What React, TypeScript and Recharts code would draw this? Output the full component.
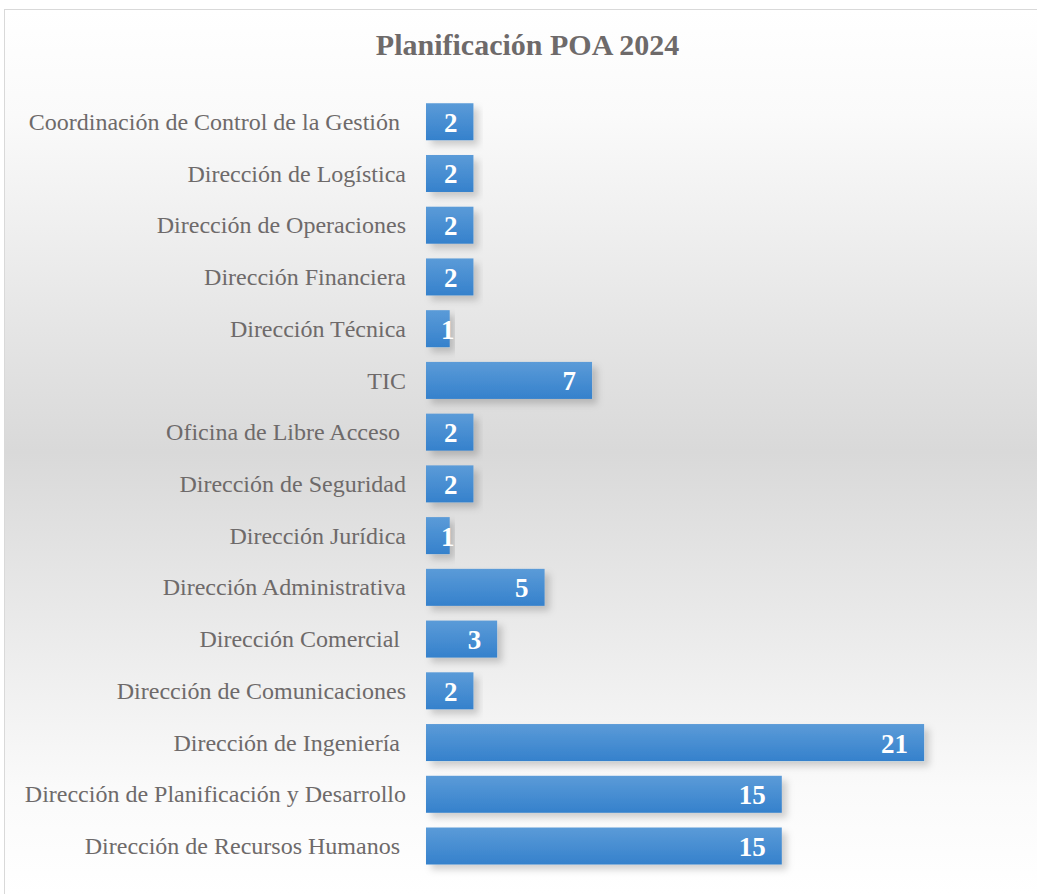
import { BarChart, Bar, XAxis, YAxis, LabelList } from "recharts";

const CATEGORIES = [
  "Coordinación de Control de la Gestión ",
  "Dirección de Logística",
  "Dirección de Operaciones",
  "Dirección Financiera",
  "Dirección Técnica",
  "TIC",
  "Oficina de Libre Acceso ",
  "Dirección de Seguridad",
  "Dirección Jurídica",
  "Dirección Administrativa",
  "Dirección Comercial ",
  "Dirección de Comunicaciones",
  "Dirección de Ingeniería ",
  "Dirección de Planificación y Desarrollo",
  "Dirección de Recursos Humanos ",
];

const VALUES = [2, 2, 2, 2, 1, 7, 2, 2, 1, 5, 3, 2, 21, 15, 15];

const data = CATEGORIES.map((nombre, i) => ({ nombre, valor: VALUES[i] }));

const FONT = '"Liberation Serif", "Times New Roman", serif';
const GRAY = "#6e6a6a";

const YTick = (props: any) => {
  const { x, y, payload } = props;
  return (
    <text
      x={x}
      y={y}
      textAnchor="end"
      dominantBaseline="central"
      fill={GRAY}
      fontFamily={FONT}
      fontSize={24}
      style={{ whiteSpace: "pre" }}
    >
      {payload.value}
    </text>
  );
};

const ValueLabel = (props: any) => {
  const { x, y, width, height, value } = props;
  const small = width < 40;
  const lx = small ? x + width - 2 : x + width - 16;
  return (
    <text
      x={lx}
      y={y + height / 2 + 1}
      textAnchor={small ? "middle" : "end"}
      dominantBaseline="central"
      fill="#ffffff"
      fontFamily={FONT}
      fontWeight="bold"
      fontSize={27}
    >
      {value}
    </text>
  );
};

const BarShape = (props: any) => {
  const { x, y, width, height } = props;
  return (
    <rect
      x={x}
      y={y}
      width={width}
      height={height}
      fill="url(#barGrad)"
      filter="url(#barShadow)"
    />
  );
};

export default function App() {
  return (
    <div
      style={{
        position: "absolute",
        left: 4,
        top: 9,
        width: 1033,
        height: 885,
        boxSizing: "border-box",
        overflow: "hidden",
        borderTop: "1px solid #d9d9d9",
        borderLeft: "1px solid #d9d9d9",
        background:
          "linear-gradient(to bottom, #ffffff 0%, #fafafa 12%, #d9d9d9 50%, #fafafa 88%, #ffffff 100%)",
      }}
    >
      <div
        style={{
          position: "absolute",
          top: 18,
          left: 0,
          width: 1045,
          textAlign: "center",
          fontFamily: FONT,
          fontWeight: "bold",
          fontSize: 30,
          color: GRAY,
        }}
      >
        Planificación POA 2024
      </div>
      <BarChart
        width={1032}
        height={884}
        data={data}
        layout="vertical"
        margin={{ top: 86, right: 18, bottom: 22, left: 0 }}
        barCategoryGap="14%"
      >
        <defs>
          <linearGradient id="barGrad" x1="0" y1="0" x2="0" y2="1">
            <stop offset="0%" stopColor="#5b9bd8" />
            <stop offset="100%" stopColor="#3581cc" />
          </linearGradient>
          <filter id="barShadow" x="-10%" y="-30%" width="130%" height="180%">
            <feDropShadow dx="5" dy="5" stdDeviation="3.5" floodColor="#000" floodOpacity="0.18" />
          </filter>
        </defs>
        <XAxis type="number" domain={[0, 25]} hide />
        <YAxis
          type="category"
          dataKey="nombre"
          width={421}
          axisLine={false}
          tickLine={false}
          tickSize={0}
          tickMargin={20}
          interval={0}
          tick={<YTick />}
        />
        <Bar dataKey="valor" shape={<BarShape />} isAnimationActive={false}>
          <LabelList dataKey="valor" content={<ValueLabel />} />
        </Bar>
      </BarChart>
    </div>
  );
}
